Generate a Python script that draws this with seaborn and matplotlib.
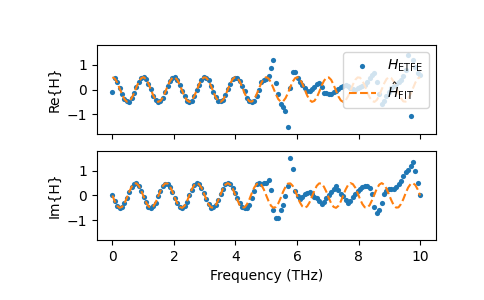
#--ETFE vs fitted transfer function, real and imaginary parts--#
import numpy as np
import pandas as pd
import seaborn as sns
import matplotlib
matplotlib.use("Agg")
import matplotlib.pyplot as plt

#--Frequency grid (THz), 129 rfft bins up to Nyquist--#
freq = np.linspace(0, 10, 129)

re_etfe = [
    -0.10, 0.46, 0.30, 0.08, -0.17, -0.38, -0.47, -0.49, -0.36, -0.14, 0.12, 0.31, 0.47,
    0.50, 0.43, 0.22, 0.01, -0.25, -0.43, -0.49, -0.45, -0.33, -0.11, 0.16, 0.36, 0.47,
    0.50, 0.38, 0.20, -0.06, -0.27, -0.45, -0.49, -0.46, -0.27, -0.03, 0.18, 0.40, 0.50,
    0.47, 0.37, 0.13, -0.12, -0.30, -0.47, -0.48, -0.43, -0.22, 0.03, 0.22, 0.44, 0.48,
    0.46, 0.34, 0.15, -0.08, -0.33, -0.45, -0.52, -0.45, -0.25, 0.00, 0.30, 0.40, 0.42,
    0.53, 0.87, 1.20, 0.27, -0.20, -0.60, -0.70, -0.87, -1.50, 0.05, 0.70, 0.70, 0.47,
    0.32, 0.18, 0.05, -0.05, -0.07, 0.02, 0.12, 0.22, 0.27, 0.10, -0.15, -0.15, -0.20,
    -0.18, -0.12, -0.07, 0.02, 0.10, 0.15, 0.20, 0.15, 0.08, 0.02, 0.00, 0.05, 0.10,
    0.15, 0.20, 0.30, 0.45, 0.60, 0.67, 0.30, -0.20, -0.60, -0.45, -0.25, -0.10, 0.05,
    0.15, 0.22, 0.30, 0.40, 0.55, 0.80, 1.40, -1.09, 1.20, 0.93, 0.67, 0.60,
]
im_etfe = [
    0.00, -0.23, -0.43, -0.49, -0.47, -0.31, -0.11, 0.16, 0.34, 0.48, 0.50, 0.38, 0.20,
    -0.06, -0.27, -0.45, -0.49, -0.43, -0.29, -0.04, 0.18, 0.40, 0.48, 0.47, 0.36, 0.14,
    -0.11, -0.31, -0.47, -0.49, -0.41, -0.25, 0.01, 0.23, 0.43, 0.49, 0.47, 0.31, 0.11,
    -0.16, -0.34, -0.49, -0.48, -0.38, -0.20, 0.06, 0.27, 0.45, 0.49, 0.45, 0.30, 0.10,
    -0.12, -0.32, -0.45, -0.50, -0.50, -0.40, -0.10, 0.17, 0.45, 0.52, 0.45, 0.50, 0.52,
    0.61, 0.24, -0.57, -0.93, -0.93, -0.57, -0.37, -0.03, 0.38, 1.53, 1.06, 0.17, -0.03,
    -0.15, -0.05, 0.04, 0.10, 0.14, 0.05, -0.05, -0.12, -0.23, -0.33, -0.25, -0.12, 0.00,
    0.15, 0.28, 0.38, 0.22, 0.08, -0.03, -0.18, -0.30, -0.22, -0.08, 0.08, 0.20, 0.26,
    0.33, 0.38, 0.38, 0.30, 0.05, -0.45, -0.70, -0.57, -0.30, 0.05, 0.20, 0.25, 0.27,
    0.27, 0.33, 0.45, 0.60, 0.80, 0.95, 1.05, 1.20, 1.37, 0.99, 0.52, 0.00,
]

#--Fitted model values at the same bins--#
re_fit = [
    0.50, 0.44, 0.28, 0.05, -0.19, -0.39, -0.49, -0.48, -0.35, -0.15, 0.10, 0.32, 0.46,
    0.50, 0.42, 0.24, 0.00, -0.24, -0.42, -0.50, -0.46, -0.32, -0.10, 0.15, 0.35, 0.48,
    0.49, 0.39, 0.19, -0.05, -0.28, -0.44, -0.50, -0.44, -0.28, -0.05, 0.19, 0.39, 0.49,
    0.48, 0.35, 0.15, -0.10, -0.32, -0.46, -0.50, -0.42, -0.24, 0.00, 0.24, 0.42, 0.50,
    0.46, 0.32, 0.10, -0.15, -0.35, -0.48, -0.49, -0.39, -0.19, 0.05, 0.28, 0.44,
    0.50, 0.44, 0.28, 0.05, -0.19, -0.39, -0.49, -0.48, -0.35, -0.15, 0.10, 0.32, 0.46,
    0.50, 0.42, 0.24, 0.00, -0.24, -0.42, -0.50, -0.46, -0.32, -0.10, 0.15, 0.35, 0.48,
    0.49, 0.39, 0.19, -0.05, -0.28, -0.44, -0.50, -0.44, -0.28, -0.05, 0.19, 0.39, 0.49,
    0.48, 0.35, 0.15, -0.10, -0.32, -0.46, -0.50, -0.42, -0.24, 0.00, 0.24, 0.42, 0.50,
    0.46, 0.32, 0.10, -0.15, -0.35, -0.48, -0.49, -0.39, -0.19, 0.05, 0.28, 0.44,
    0.50,
]
im_fit = [
    0.00, -0.24, -0.42, -0.50, -0.46, -0.32, -0.10, 0.15, 0.35, 0.48, 0.49, 0.39, 0.19,
    -0.05, -0.28, -0.44, -0.50, -0.44, -0.28, -0.05, 0.19, 0.39, 0.49, 0.48, 0.35, 0.15,
    -0.10, -0.32, -0.46, -0.50, -0.42, -0.24, 0.00, 0.24, 0.42, 0.50, 0.46, 0.32, 0.10,
    -0.15, -0.35, -0.48, -0.49, -0.39, -0.19, 0.05, 0.28, 0.44, 0.50, 0.44, 0.28, 0.05,
    -0.19, -0.39, -0.49, -0.48, -0.35, -0.15, 0.10, 0.32, 0.46, 0.50, 0.42, 0.24,
    0.00, -0.24, -0.42, -0.50, -0.46, -0.32, -0.10, 0.15, 0.35, 0.48, 0.49, 0.39, 0.19,
    -0.05, -0.28, -0.44, -0.50, -0.44, -0.28, -0.05, 0.19, 0.39, 0.49, 0.48, 0.35, 0.15,
    -0.10, -0.32, -0.46, -0.50, -0.42, -0.24, 0.00, 0.24, 0.42, 0.50, 0.46, 0.32, 0.10,
    -0.15, -0.35, -0.48, -0.49, -0.39, -0.19, 0.05, 0.28, 0.44, 0.50, 0.44, 0.28, 0.05,
    -0.19, -0.39, -0.49, -0.48, -0.35, -0.15, 0.10, 0.32, 0.46, 0.50, 0.42, 0.24,
    0.00,
]

df = pd.DataFrame({
    'freq': freq,
    're_etfe': re_etfe,
    'im_etfe': im_etfe,
    're_fit': re_fit,
    'im_fit': im_fit,
})

#--Figure--#
fig, (ax_re, ax_im) = plt.subplots(2, 1, sharex=True, figsize=(4.85, 3.0), dpi=100)
fig.subplots_adjust(left=0.2, right=0.898, top=0.85, bottom=0.2, hspace=0.19)

panels = [(ax_re, 're_etfe', 're_fit', 'Re{H}'),
          (ax_im, 'im_etfe', 'im_fit', 'Im{H}')]

for ax, col_data, col_fit, ylab in panels:
    sns.scatterplot(data=df, x='freq', y=col_data, ax=ax, color='C0',
                    marker='o', s=14, linewidth=0, label=r'$H_\mathrm{ETFE}$')
    sns.lineplot(data=df, x='freq', y=col_fit, ax=ax, color='C1',
                 linestyle='--', linewidth=1.5, label=r'$\hat{H}_\mathrm{FIT}$')
    ax.set_ylim(-1.8, 1.8)
    ax.set_yticks([-1, 0, 1])
    ax.set_ylabel(ylab)

ax_re.set_xlabel('')
ax_re.legend(loc='upper right')
ax_im.get_legend().remove()
ax_im.set_xlabel('Frequency (THz)')

fig.savefig('out.png', dpi=100)
